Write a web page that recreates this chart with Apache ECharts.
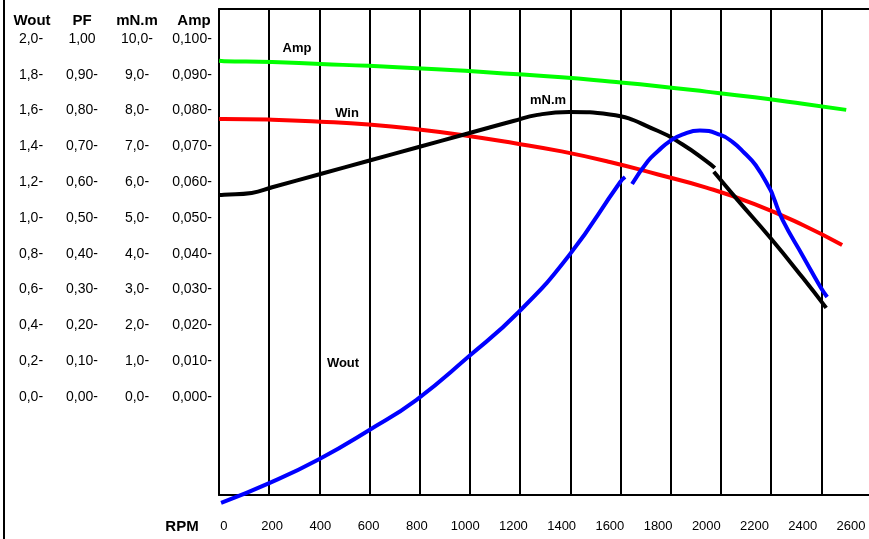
<!DOCTYPE html>
<html>
<head>
<meta charset="utf-8">
<script src="https://cdn.jsdelivr.net/npm/echarts@6/dist/echarts.min.js"></script>
<style>
html,body{margin:0;padding:0;background:#fff;}
#c{width:869px;height:539px;}
</style>
</head>
<body>
<div id="c"></div>
<script>
// ---- tick labels ----
const rpmTicks = [0,200,400,600,800,1000,1200,1400,1600,1800,2000,2200,2400,2600];
const woutTicks = [0,0.2,0.4,0.6,0.8,1.0,1.2,1.4,1.6,1.8,2.0];
const pfTicks = [0,0.1,0.2,0.3,0.4,0.5,0.6,0.7,0.8,0.9,1.0];
const torqueTicks = [0,1,2,3,4,5,6,7,8,9,10];
const ampTicks = [0,0.01,0.02,0.03,0.04,0.05,0.06,0.07,0.08,0.09,0.10];

// ---- series values [RPM, value] ----
const ampData = [[-20,0.0939],[0,0.0938],[200,0.0936],[400,0.0930],[600,0.0925],[800,0.0918],[1000,0.0911],[1200,0.0902],[1400,0.0893],[1600,0.0881],[1800,0.0868],[2000,0.0853],[2200,0.0837],[2400,0.0819],[2580,0.0802]];
const winData = [[-20,1.553],[0,1.553],[200,1.549],[400,1.538],[600,1.522],[800,1.496],[1000,1.461],[1200,1.419],[1400,1.372],[1600,1.313],[1800,1.243],[2000,1.170],[2200,1.078],[2400,0.961],[2563,0.849]];
const torqueData1 = [[-20,5.64],[0,5.65],[115,5.70],[200,5.86],[400,6.23],[600,6.60],[800,6.97],[1000,7.34],[1200,7.71],[1300,7.88],[1432,7.96],[1600,7.89],[1800,7.43],[1900,7.06],[2000,6.59],[2035,6.40]];
const torqueData2 = [[2031,6.29],[2130,5.50],[2266,4.44],[2400,3.33],[2497,2.49]];
const woutData1 = [[-12,-0.592],[190,-0.480],[396,-0.346],[603,-0.184],[797,-0.017],[1012,0.223],[1222,0.475],[1432,0.793],[1643,1.201],[1663,1.229]];
const woutData2 = [[1692,1.190],[1758,1.318],[1800,1.374],[1849,1.430],[1900,1.466],[1973,1.489],[2059,1.464],[2108,1.425],[2158,1.363],[2204,1.296],[2266,1.156],[2278,1.117],[2316,0.989],[2400,0.788],[2473,0.615],[2501,0.559]];

const FONT = 'Liberation Sans, Arial, sans-serif';
const fmt = (v, d) => v.toFixed(d).replace('.', ',');

function yAx(min, max, ticks, margin, formatter, showLine) {
  return {
    type: 'value', position: 'left', min: min, max: max,
    axisLine: {show: !!showLine, onZero: false, lineStyle: {color: '#000', width: 2}},
    axisTick: {show: false}, splitLine: {show: false},
    axisLabel: {
      customValues: ticks, margin: margin, align: 'center',
      color: '#000', fontSize: 14, fontFamily: FONT,
      formatter: formatter
    }
  };
}

function lineSeries(data, yIdx, color) {
  return {
    type: 'line', data: data, xAxisIndex: 0, yAxisIndex: yIdx,
    symbol: 'none', smooth: 0.5, clip: false, silent: true,
    lineStyle: {color: color, width: 4}
  };
}

const chart = echarts.init(document.getElementById('c'));
const Wmin = -0.54749, Wmax = 2.16760;
chart.setOption({
  animation: false,
  backgroundColor: '#fff',
  grid: {left: 219, top: 9, right: -3, bottom: 44, show: false},
  xAxis: [
    {
      type: 'value', min: -20.6, max: 2674.4,
      axisLine: {show: true, onZero: false, lineStyle: {color: '#000', width: 2}},
      axisTick: {show: false}, splitLine: {show: false},
      axisLabel: {customValues: rpmTicks, margin: 25, color: '#000', fontSize: 13, fontFamily: FONT, formatter: v => String(v)}
    },
    {
      type: 'value', min: 0, max: 12.951, interval: 1, position: 'top',
      axisLine: {show: true, onZero: false, lineStyle: {color: '#000', width: 2}},
      axisTick: {show: false}, axisLabel: {show: false},
      splitLine: {show: true, showMinLine: true, showMaxLine: false, lineStyle: {color: '#000', width: 2}}
    }
  ],
  yAxis: [
    yAx(Wmin, Wmax, woutTicks, 188, v => fmt(v, 1) + '-'),
    yAx(Wmin / 2, Wmax / 2, pfTicks, 137, v => v > 0.999 ? fmt(v, 2) : fmt(v, 2) + '-'),
    yAx(Wmin * 5, Wmax * 5, torqueTicks, 82, v => fmt(v, 1) + '-'),
    yAx(Wmin / 20, Wmax / 20, ampTicks, 27, v => fmt(v, 3) + '-', true)
  ],
  graphic: [
    {type: 'line', shape: {x1: 4, y1: 0, x2: 4, y2: 539}, style: {stroke: '#000', lineWidth: 2}},
    {type: 'text', x: 32, y: 21, style: {text: 'Wout', font: 'bold 15px ' + FONT, fill: '#000', textAlign: 'center', textVerticalAlign: 'middle'}},
    {type: 'text', x: 82, y: 21, style: {text: 'PF', font: 'bold 15px ' + FONT, fill: '#000', textAlign: 'center', textVerticalAlign: 'middle'}},
    {type: 'text', x: 137, y: 21, style: {text: 'mN.m', font: 'bold 15px ' + FONT, fill: '#000', textAlign: 'center', textVerticalAlign: 'middle'}},
    {type: 'text', x: 194, y: 21, style: {text: 'Amp', font: 'bold 15px ' + FONT, fill: '#000', textAlign: 'center', textVerticalAlign: 'middle'}},
    {type: 'text', x: 182, y: 527, style: {text: 'RPM', font: 'bold 15px ' + FONT, fill: '#000', textAlign: 'center', textVerticalAlign: 'middle'}},
    {type: 'text', x: 297, y: 48, z: 10, style: {text: 'Amp', font: 'bold 13px ' + FONT, fill: '#000', textAlign: 'center', textVerticalAlign: 'middle'}},
    {type: 'text', x: 347, y: 113, z: 10, style: {text: 'Win', font: 'bold 13px ' + FONT, fill: '#000', textAlign: 'center', textVerticalAlign: 'middle'}},
    {type: 'text', x: 548, y: 100, z: 10, style: {text: 'mN.m', font: 'bold 13px ' + FONT, fill: '#000', textAlign: 'center', textVerticalAlign: 'middle'}},
    {type: 'text', x: 343, y: 363, z: 10, style: {text: 'Wout', font: 'bold 13px ' + FONT, fill: '#000', textAlign: 'center', textVerticalAlign: 'middle'}}
  ],
  series: [
    lineSeries(ampData, 3, '#00ff00'),
    lineSeries(winData, 0, '#ff0000'),
    lineSeries(torqueData1, 2, '#000000'),
    lineSeries(torqueData2, 2, '#000000'),
    lineSeries(woutData1, 0, '#0000ff'),
    lineSeries(woutData2, 0, '#0000ff')
  ]
});
</script>
</body>
</html>
